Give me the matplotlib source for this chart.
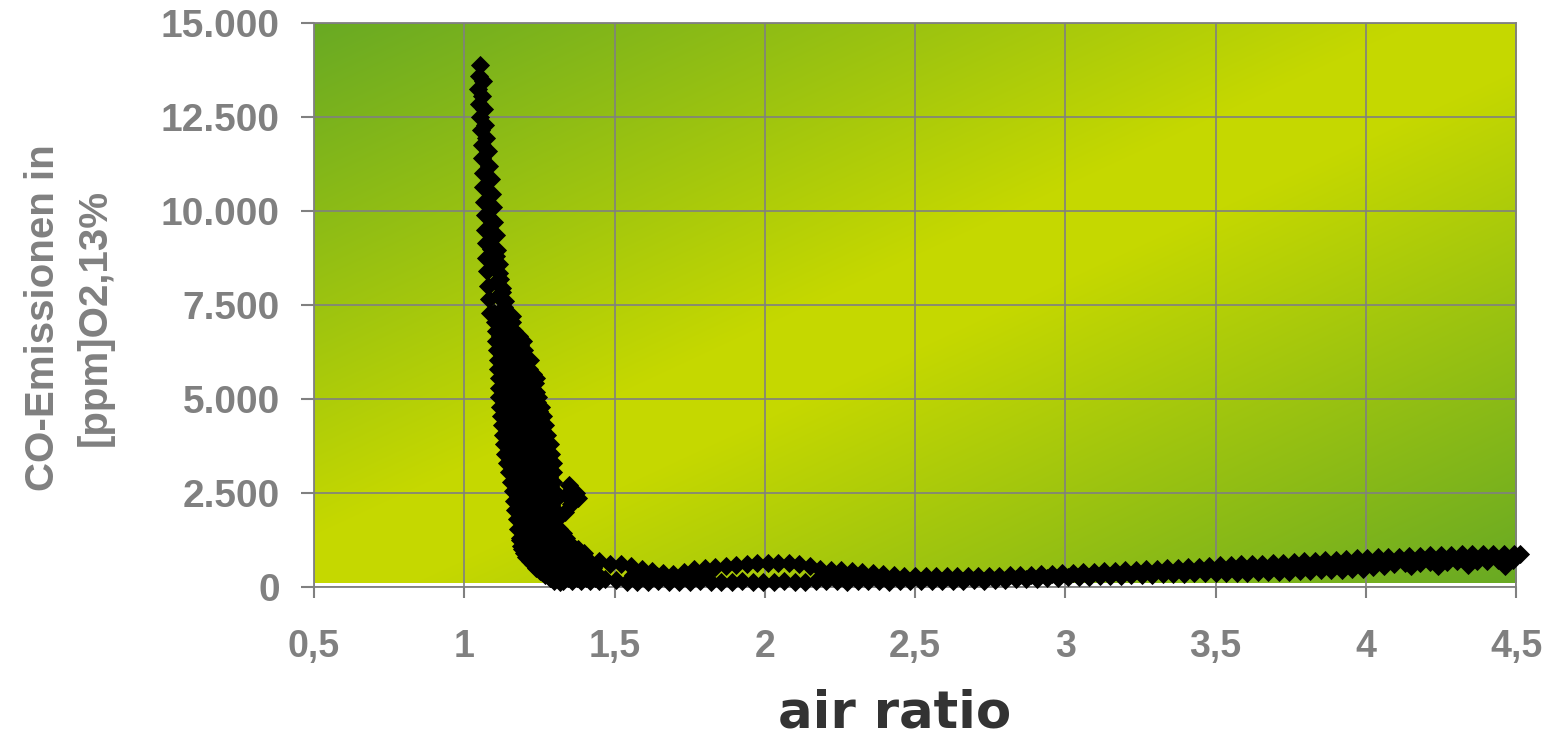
import numpy as np
import matplotlib
matplotlib.use("Agg")
import matplotlib.pyplot as plt

# ------------------------------------------------------------------ data
# narrow spike near air ratio 1.05
spike_x = [1.052, 1.048, 1.062, 1.047, 1.060, 1.050, 1.066, 1.052, 1.068, 1.055,
           1.072, 1.058, 1.078, 1.060, 1.082, 1.062, 1.088, 1.064, 1.092, 1.066,
           1.097, 1.068, 1.100, 1.070, 1.104, 1.072, 1.110, 1.074, 1.114, 1.076,
           1.120, 1.078, 1.126, 1.082, 1.132, 1.086, 1.140,
           1.085, 1.095, 1.090, 1.105, 1.098, 1.115, 1.105, 1.125, 1.112, 1.135]
spike_y = [13870, 13600, 13450, 13250, 13050, 12850, 12700, 12500, 12300, 12150,
           11950, 11750, 11600, 11400, 11200, 11000, 10850, 10650, 10450, 10250,
           10100, 9900, 9700, 9500, 9350, 9150, 8950, 8750, 8600, 8400,
           8200, 8000, 7850, 7650, 7450, 7300, 7150,
           9800, 9300, 9000, 8800, 8500, 8350, 8100, 7950, 7750, 7600]

# wide band between 7.300 and 1.300 ppm
band_x = [1.100, 1.125, 1.160,
          1.102, 1.130, 1.158,
          1.104, 1.135, 1.165,
          1.107, 1.140, 1.170, 1.195,
          1.109, 1.140, 1.175, 1.200,
          1.111, 1.145, 1.180, 1.218,
          1.112, 1.145, 1.180, 1.215,
          1.114, 1.150, 1.185, 1.225, 1.240,
          1.115, 1.150, 1.190, 1.225,
          1.117, 1.155, 1.190, 1.225, 1.247,
          1.120, 1.155, 1.195, 1.230, 1.255,
          1.122, 1.160, 1.200, 1.235, 1.262,
          1.125, 1.160, 1.200, 1.240, 1.268,
          1.128, 1.165, 1.205, 1.245, 1.275,
          1.132, 1.170, 1.210, 1.250, 1.285,
          1.136, 1.175, 1.215, 1.255, 1.290,
          1.142, 1.180, 1.220, 1.260, 1.295,
          1.148, 1.185, 1.225, 1.265, 1.297,
          1.155, 1.190, 1.230, 1.265, 1.297,
          1.163, 1.195, 1.235, 1.270, 1.298,
          1.166, 1.200, 1.240, 1.270, 1.300,
          1.170, 1.205, 1.240, 1.275, 1.303,
          1.175, 1.210, 1.245, 1.280, 1.308,
          1.180, 1.215, 1.250, 1.285, 1.315,
          1.186, 1.220, 1.255, 1.290, 1.325, 1.340]
band_y = [7300, 7300, 7200,
          7050, 7050, 7050,
          6800, 6800, 6800,
          6550, 6550, 6550, 6550,
          6300, 6300, 6300, 6300,
          6050, 6050, 6050, 6050,
          5800, 5800, 5800, 5800,
          5550, 5550, 5550, 5550, 5550,
          5300, 5300, 5300, 5300,
          5050, 5050, 5050, 5050, 5050,
          4800, 4800, 4800, 4800, 4800,
          4550, 4550, 4550, 4550, 4550,
          4300, 4300, 4300, 4300, 4300,
          4050, 4050, 4050, 4050, 4050,
          3800, 3800, 3800, 3800, 3800,
          3550, 3550, 3550, 3550, 3550,
          3300, 3300, 3300, 3300, 3300,
          3050, 3050, 3050, 3050, 3050,
          2800, 2800, 2800, 2800, 2800,
          2550, 2550, 2550, 2550, 2550,
          2300, 2300, 2300, 2300, 2300,
          2050, 2050, 2050, 2050, 2050,
          1800, 1800, 1800, 1800, 1800,
          1550, 1550, 1550, 1550, 1550,
          1300, 1300, 1300, 1300, 1300, 1300]

# further readings inside the wide band (between the rows above)
band2_x = [1.113, 1.142,
           1.118, 1.147,
           1.120, 1.152, 1.182,
           1.123, 1.157, 1.187,
           1.126, 1.160, 1.195,
           1.128, 1.162, 1.198,
           1.130, 1.165, 1.200, 1.228,
           1.132, 1.168, 1.207, 1.235,
           1.134, 1.170, 1.207, 1.238,
           1.137, 1.173, 1.210, 1.243,
           1.140, 1.178, 1.215, 1.248,
           1.142, 1.180, 1.218, 1.252,
           1.145, 1.183, 1.222, 1.258,
           1.150, 1.188, 1.228, 1.265,
           1.153, 1.193, 1.233, 1.270,
           1.158, 1.198, 1.238, 1.275,
           1.165, 1.203, 1.243, 1.280,
           1.170, 1.208, 1.248, 1.281,
           1.177, 1.213, 1.250, 1.284,
           1.180, 1.218, 1.255, 1.285,
           1.185, 1.222, 1.258, 1.288,
           1.190, 1.226, 1.262, 1.293,
           1.195, 1.232, 1.268, 1.300,
           1.200, 1.237, 1.272, 1.307, 1.330,
           1.205, 1.240, 1.280, 1.310, 1.345]
band2_y = [7175, 7175,
           6925, 6925,
           6675, 6675, 6675,
           6425, 6425, 6425,
           6175, 6175, 6175,
           5925, 5925, 5925,
           5675, 5675, 5675, 5675,
           5425, 5425, 5425, 5425,
           5175, 5175, 5175, 5175,
           4925, 4925, 4925, 4925,
           4675, 4675, 4675, 4675,
           4425, 4425, 4425, 4425,
           4175, 4175, 4175, 4175,
           3925, 3925, 3925, 3925,
           3675, 3675, 3675, 3675,
           3425, 3425, 3425, 3425,
           3175, 3175, 3175, 3175,
           2925, 2925, 2925, 2925,
           2675, 2675, 2675, 2675,
           2425, 2425, 2425, 2425,
           2175, 2175, 2175, 2175,
           1925, 1925, 1925, 1925,
           1675, 1675, 1675, 1675,
           1425, 1425, 1425, 1425, 1425,
           1200, 1200, 1200, 1200, 1200]

# small cluster at air ratio ~1.36
blob_x = [1.350, 1.372, 1.380, 1.355, 1.340, 1.335]
blob_y = [2720, 2500, 2380, 2200, 2450, 2000]

# knee of the curve
knee_x = [1.190, 1.225, 1.260, 1.295, 1.330, 1.360,
          1.210, 1.245, 1.280, 1.315, 1.350, 1.380,
          1.200, 1.230, 1.265, 1.300, 1.335, 1.370, 1.400,
          1.215, 1.250, 1.285, 1.320, 1.355, 1.390,
          1.218, 1.250, 1.280, 1.310, 1.345, 1.380, 1.415,
          1.235, 1.265, 1.295, 1.325, 1.360, 1.400,
          1.240, 1.270, 1.300, 1.330, 1.360, 1.390, 1.430,
          1.260, 1.285, 1.315, 1.345, 1.375, 1.410,
          1.268, 1.295, 1.325, 1.355, 1.385, 1.415, 1.445,
          1.290, 1.315, 1.345, 1.375, 1.405, 1.435,
          1.300, 1.330, 1.360, 1.390, 1.420, 1.450,
          1.185, 1.192, 1.205, 1.228, 1.253, 1.285, 1.320]
knee_y = [1100, 1100, 1100, 1100, 1100, 1100,
          1000, 1000, 1000, 1000, 1000, 1000,
          900, 900, 900, 900, 900, 900, 900,
          800, 800, 800, 800, 800, 800,
          700, 700, 700, 700, 700, 700, 700,
          600, 600, 600, 600, 600, 600,
          500, 500, 500, 500, 500, 500, 500,
          410, 410, 410, 410, 410, 410,
          320, 320, 320, 320, 320, 320, 320,
          235, 235, 235, 235, 235, 235,
          150, 150, 150, 150, 150, 150,
          1250, 1000, 800, 600, 420, 240, 120]

# upper edge of the low band
upper_x = [1.450, 1.485, 1.520, 1.555, 1.590, 1.625, 1.660, 1.695, 1.730, 1.765,
           1.800, 1.835, 1.870, 1.905, 1.940, 1.975, 2.010, 2.045, 2.080, 2.115,
           2.150, 2.185, 2.220, 2.255, 2.290, 2.325, 2.360, 2.395, 2.430, 2.465,
           2.500, 2.535, 2.570, 2.605, 2.640, 2.675, 2.710, 2.745, 2.780, 2.815,
           2.850, 2.885, 2.920, 2.955, 2.990, 3.025, 3.060, 3.095, 3.130, 3.165,
           3.200, 3.235, 3.270, 3.305, 3.340, 3.375, 3.410, 3.445, 3.480, 3.515,
           3.550, 3.585, 3.620, 3.655, 3.690, 3.725, 3.760, 3.795, 3.830, 3.865,
           3.900, 3.935, 3.970, 4.005, 4.040, 4.075, 4.110, 4.145, 4.180, 4.215,
           4.250, 4.285, 4.320, 4.355, 4.390, 4.425, 4.460, 4.495, 4.513]
upper_y = [680, 610, 600, 560, 490, 430, 370, 345, 410, 470,
           510, 535, 560, 585, 605, 630, 645, 640, 630, 605,
           550, 490, 460, 445, 430, 410, 380, 350, 320, 300,
           290, 285, 280, 285, 290, 285, 290, 290, 300, 310,
           320, 330, 340, 350, 370, 380, 390, 410, 420, 430,
           450, 460, 470, 480, 500, 510, 530, 545, 560, 580,
           590, 600, 615, 625, 640, 650, 665, 680, 700, 710,
           725, 740, 760, 770, 790, 800, 810, 820, 830, 840,
           850, 860, 875, 870, 880, 885, 880, 890, 880]

# lower edge of the low band
lower_x = [1.470, 1.505, 1.540, 1.575, 1.610, 1.645, 1.680, 1.715, 1.750, 1.785,
           1.820, 1.855, 1.890, 1.925, 1.960, 1.995, 2.030, 2.065, 2.100, 2.135,
           2.170, 2.205, 2.240, 2.275, 2.310, 2.345, 2.380, 2.415, 2.450, 2.485,
           2.520, 2.555, 2.590, 2.625, 2.660, 2.695, 2.730, 2.765, 2.800, 2.835,
           2.870, 2.905, 2.940, 2.975, 3.010, 3.045, 3.080, 3.115, 3.150, 3.185,
           3.220, 3.255, 3.290, 3.325, 3.360, 3.395, 3.430, 3.465, 3.500, 3.535,
           3.570, 3.605, 3.640, 3.675, 3.710, 3.745, 3.780, 3.815, 3.850, 3.885,
           3.920, 3.955, 3.990, 4.025, 4.060, 4.095, 4.130, 4.150, 4.180, 4.215,
           4.240, 4.270, 4.305, 4.340, 4.370, 4.405, 4.440, 4.465, 4.490]
lower_y = [200, 190, 140, 130, 140, 150, 140, 130, 140, 150,
           140, 130, 140, 150, 140, 130, 140, 150, 140, 130,
           150, 160, 150, 140, 150, 160, 150, 140, 150, 160,
           150, 160, 170, 160, 170, 180, 170, 180, 190, 200,
           210, 220, 230, 245, 255, 260, 270, 280, 290, 300,
           310, 320, 330, 340, 350, 355, 360, 365, 370, 375,
           380, 385, 390, 395, 400, 410, 420, 435, 445, 455,
           465, 475, 490, 520, 560, 620, 640, 560, 650, 660,
           570, 670, 680, 580, 690, 700, 710, 550, 720]

# a few points filling the middle of the low band
mid_x = [1.560, 1.600, 1.640, 1.760, 1.800, 2.200, 2.240, 2.280]
mid_y = [320, 300, 280, 300, 320, 300, 290, 280]

x_ticks = [0.5, 1, 1.5, 2, 2.5, 3, 3.5, 4, 4.5]
x_tick_labels = ["0,5", "1", "1,5", "2", "2,5", "3", "3,5", "4", "4,5"]
y_ticks = [0, 2500, 5000, 7500, 10000, 12500, 15000]
y_tick_labels = ["0", "2.500", "5.000", "7.500", "10.000", "12.500", "15.000"]

x_label = "air ratio"
y_label = "CO-Emissionen in\n[ppm]O2,13%"

# ------------------------------------------------------------------ style
GRAY = "#808080"
W_PX, H_PX, DPI = 1552, 737, 100

fig = plt.figure(figsize=(W_PX / DPI, H_PX / DPI), dpi=DPI)
fig.patch.set_facecolor("white")
ax = fig.add_axes([314 / W_PX, 1 - 587 / H_PX, (1516 - 314) / W_PX, (587 - 23) / H_PX])

# diagonal background gradient (dark green corners, yellow-green middle)
gh, gw = 300, 600
v = np.linspace(0, 1, gh)[:, None]
u = np.linspace(0, 1, gw)[None, :]
t = (u + v) / 2.0
s = np.clip((1 - np.abs(t - 0.5) * 2) / 0.92, 0, 1)
dark = np.array([0.41, 0.665, 0.14])
yellow = np.array([0.775, 0.848, 0.0])
img = dark + (yellow - dark) * s[..., None]
ax.imshow(img, extent=[0.5, 4.5, 110, 15000], aspect="auto", origin="upper",
          zorder=0, interpolation="bilinear")

ax.set_xlim(0.5, 4.5)
ax.set_ylim(0, 15000)

mk = dict(linestyle="none", marker="D", ms=9.5, mfc="black", mec="black",
          mew=0.6, clip_on=False, zorder=3)
for xs, ys in [(spike_x, spike_y), (band_x, band_y), (band2_x, band2_y),
               (blob_x, blob_y), (knee_x, knee_y), (upper_x, upper_y),
               (lower_x, lower_y), (mid_x, mid_y)]:
    ax.plot(xs, ys, **mk)

ax.set_axisbelow(True)
ax.grid(True, color=GRAY, linewidth=1.2)
for sp in ax.spines.values():
    sp.set_color(GRAY)
    sp.set_linewidth(1.3)

ax.set_xticks(x_ticks)
ax.set_xticklabels(x_tick_labels)
ax.set_yticks(y_ticks)
ax.set_yticklabels(y_tick_labels)
ax.tick_params(axis="both", direction="out", color=GRAY, width=1.5,
               labelcolor=GRAY)
ax.tick_params(axis="y", length=9.5, pad=15)
ax.tick_params(axis="x", length=8, pad=22)
for lab in ax.get_yticklabels():
    lab.set_fontfamily("Liberation Sans")
    lab.set_fontweight("bold")
    lab.set_fontsize(28)
for lab in ax.get_xticklabels():
    lab.set_fontfamily("Liberation Sans")
    lab.set_fontweight("bold")
    lab.set_fontsize(27)

fig.text(69 / W_PX, 1 - 317.5 / H_PX, y_label, rotation=90, ha="center",
         va="center", multialignment="center", color=GRAY,
         fontsize=29, fontweight="bold", family="Liberation Sans",
         linespacing=1.45)
fig.text(895 / W_PX, 1 - 727 / H_PX, x_label, ha="center", va="baseline",
         color="#333333", fontsize=37, fontweight="bold", family="DejaVu Sans")

fig.savefig("out.png", dpi=DPI, facecolor="white")
